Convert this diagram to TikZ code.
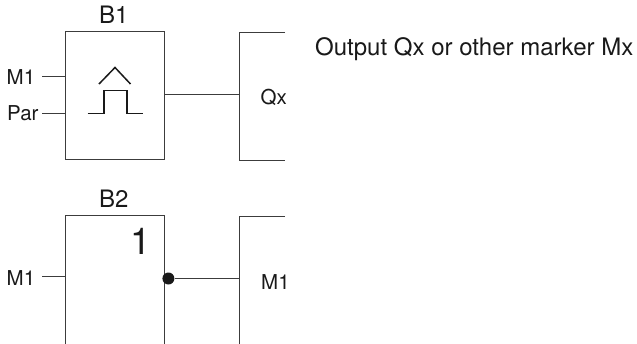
\documentclass[tikz,border=0pt]{standalone}
\usepackage{fontspec}
\setmainfont{TeX Gyre Heros}
\usepackage{xcolor}
\usepackage{tikz}
\usetikzlibrary{positioning,arrows.meta}
\definecolor{linegray}{RGB}{60,60,60}
\definecolor{textblack}{RGB}{25,25,25}
\tikzset{
    funcbox/.style={draw=linegray, line width=0.9pt, minimum width=98.5pt, inner sep=0pt, anchor=north west},
    wire/.style={draw=linegray, line width=0.9pt},
    symbolline/.style={draw=textblack, line width=1.5pt},
    lbl/.style={inner sep=0pt, anchor=base west, text=textblack, font=\fontsize{20.5}{22}\selectfont},
    blocklbl/.style={inner sep=0pt, anchor=base west, text=textblack, font=\fontsize{24}{26}\selectfont}
}

\begin{document}
\begin{tikzpicture}[x=1pt,y=-1pt]
    \useasboundingbox (0,0) rectangle (637,343);
    \clip (0,0) rectangle (637,343);

    % upper block
    \node[funcbox, minimum height=128.5pt] (b1) at (65,30.5) {};
    \node[blocklbl] (b1name) at (99,23.3) {B1};
    \node[lbl] (m1a) at (6.5,84) {M1};
    \node[lbl] (par) at (7,120.7) {Par};
    \coordinate (m1aend) at (42,76);
    \coordinate (parend) at (42,113);
    \draw[wire] (m1aend) -- (m1aend -| b1.west);
    \draw[wire] (parend) -- (parend -| b1.west);

    % pulse symbol
    \draw[symbolline] (87.5,113.5) -- (104,113.5) -- (104,90.5) -- (127,90.5) -- (127,113.5) -- (142.5,113.5);
    \draw[symbolline] (99,84) -- (115,67.5) -- (130.5,84);

    % output of upper block
    \coordinate (qxtop) at (285,32);
    \coordinate (qxbot) at (285,160);
    \draw[wire] (qxtop) -- (239,32) -- (239,160) -- (qxbot);
    \coordinate (qxin) at (239,94.5);
    \draw[wire] (b1.east |- qxin) -- (qxin);
    \node[lbl] (qx) at (260.5,104.3) {Qx};
    \node[blocklbl] (note) at (315,55) {Output Qx or other marker Mx};

    % lower block
    \node[funcbox, minimum height=170pt] (b2) at (65,214.5) {};
    \node[blocklbl] (b2name) at (99,207.7) {B2};
    \node[inner sep=0pt, anchor=base west, text=textblack, font=\fontsize{37}{40}\selectfont] (one) at (130,254) {1};
    \node[lbl] (m1b) at (6.5,285) {M1};
    \coordinate (m1bend) at (42,276.5);
    \draw[wire] (m1bend) -- (m1bend -| b2.west);

    % output of lower block
    \coordinate (m1top) at (285,216);
    \draw[wire] (m1top) -- (239,216) -- (239,350);
    \coordinate (m1in) at (239,278.5);
    \node[circle, fill=textblack, inner sep=0pt, minimum size=12pt] (dot) at (b2.east |- m1in) [xshift=4pt] {};
    \draw[wire] (dot) -- (m1in);
    \node[lbl] (m1c) at (261,289.3) {M1};
\end{tikzpicture}
\end{document}
